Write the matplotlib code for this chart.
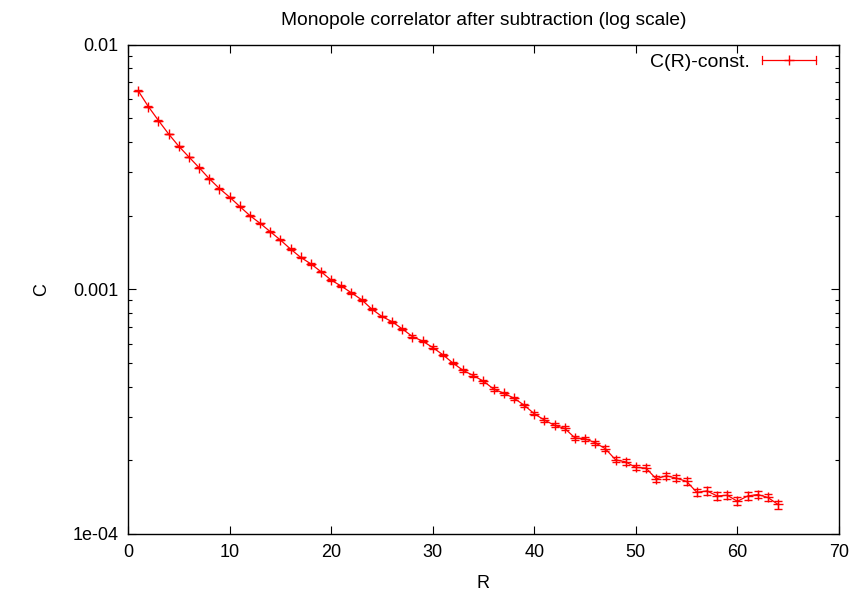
import matplotlib
matplotlib.use("Agg")
import matplotlib.pyplot as plt
from matplotlib.ticker import FixedLocator, NullFormatter, LogLocator
from matplotlib.legend_handler import HandlerBase
from matplotlib.lines import Line2D

plt.rcParams['font.family'] = ['Liberation Sans', 'DejaVu Sans']

R = list(range(1, 65))
C = [0.00647, 0.00558, 0.00489, 0.00431, 0.00384, 0.00347, 0.00314, 0.00283,
     0.00258, 0.00238, 0.00218, 0.00200, 0.00186, 0.00172, 0.00159, 0.00146,
     0.00135, 0.00127, 0.00118, 0.00109, 0.00103, 0.000967, 0.000906, 0.000830,
     0.000774, 0.000737, 0.000689, 0.000641, 0.000614, 0.000578, 0.000540, 0.000499,
     0.000466, 0.000444, 0.000421, 0.000391, 0.000376, 0.000359, 0.000336, 0.000310,
     0.000292, 0.000278, 0.000270, 0.000247, 0.000245, 0.000236, 0.000223, 0.000201,
     0.000197, 0.000187, 0.000186, 0.000168, 0.000173, 0.000169, 0.000164, 0.000148,
     0.000150, 0.000143, 0.000144, 0.000136, 0.000143, 0.000145, 0.000141, 0.000132]
C_err = [0.00003, 0.000025, 0.00002, 0.000018, 0.000016, 0.000014, 0.000013, 0.000012,
         0.000011, 0.00001, 0.00001, 0.000009, 0.000009, 0.000009, 0.000008, 0.000008,
         0.000008, 0.000008, 0.000008, 0.000008, 0.000008, 0.000008, 0.000007, 0.000007,
         0.000007, 0.000007, 0.000007, 0.000007, 0.000006, 0.000006, 0.000006, 0.000006,
         0.000006, 0.000006, 0.000006, 0.000006, 0.000005, 0.000005, 0.000005, 0.000005,
         0.000005, 0.000005, 0.000005, 0.000005, 0.000005, 0.000005, 0.000005, 0.000005,
         0.000005, 0.000005, 0.000005, 0.000005, 0.000005, 0.000005, 0.000005, 0.000005,
         0.000005, 0.000005, 0.000005, 0.000005, 0.000005, 0.000005, 0.000005, 0.000005]

xticks = [0, 10, 20, 30, 40, 50, 60, 70]
yticks = [1e-4, 1e-3, 1e-2]
ytick_labels = ['1e-04', '0.001', '0.01']

RED = '#ff0000'


class HorizontalErrHandler(HandlerBase):
    """gnuplot-style legend sample: horizontal bar with end caps and a '+' in the middle."""
    def create_artists(self, legend, orig_handle, xdescent, ydescent, width, height,
                       fontsize, trans):
        y = height / 2 - ydescent
        x0, x1 = -xdescent, width - xdescent
        cap = 3.0
        bar = Line2D([x0, x1], [y, y], color=RED, lw=0.9, transform=trans)
        c0 = Line2D([x0, x0], [y - cap, y + cap], color=RED, lw=0.9, transform=trans)
        c1 = Line2D([x1, x1], [y - cap, y + cap], color=RED, lw=0.9, transform=trans)
        mk = Line2D([(x0 + x1) / 2], [y], color=RED, marker='+', ms=7, mew=1.0,
                    ls='none', transform=trans)
        return [bar, c0, c1, mk]


fig = plt.figure(figsize=(8.59, 5.91), dpi=100)
ax = fig.add_axes([128/859, 1 - 534/591, (839-128)/859, (534-44.5)/591])

cont = ax.errorbar(R, C, yerr=C_err, color=RED, lw=0.9, marker='+', ms=7, mew=1.0,
                   elinewidth=0.9, capsize=3, capthick=0.9, label='C(R)-const.')

ax.set_yscale('log')
ax.set_xlim(0, 70)
ax.set_ylim(1e-4, 1e-2)
ax.xaxis.set_major_locator(FixedLocator(xticks))
ax.yaxis.set_major_locator(FixedLocator(yticks))
ax.set_yticklabels(ytick_labels)
ax.yaxis.set_minor_locator(LogLocator(base=10, subs=range(2, 10)))
ax.yaxis.set_minor_formatter(NullFormatter())

ax.tick_params(axis='both', which='major', direction='in', length=6, width=0.8,
               top=True, right=True, labelsize=13, pad=7, colors='black')
ax.tick_params(axis='both', which='minor', direction='in', length=3, width=0.8,
               top=True, right=True)
for s in ax.spines.values():
    s.set_linewidth(1.0)

ax.set_xlabel('R', fontsize=13, labelpad=10)
ax.set_ylabel('C', fontsize=13, labelpad=16)
ax.set_title('Monopole correlator after subtraction (log scale)', fontsize=13.8, pad=14)

leg = ax.legend([cont], ['C(R)-const.'], handler_map={cont: HorizontalErrHandler()},
                loc='center right', bbox_to_anchor=(816/859, 1 - 62/591),
                bbox_transform=fig.transFigure, frameon=False, fontsize=14,
                markerfirst=False, handlelength=2.78, handletextpad=0.62,
                borderpad=0, borderaxespad=0)

fig.savefig('out.png', dpi=100)
